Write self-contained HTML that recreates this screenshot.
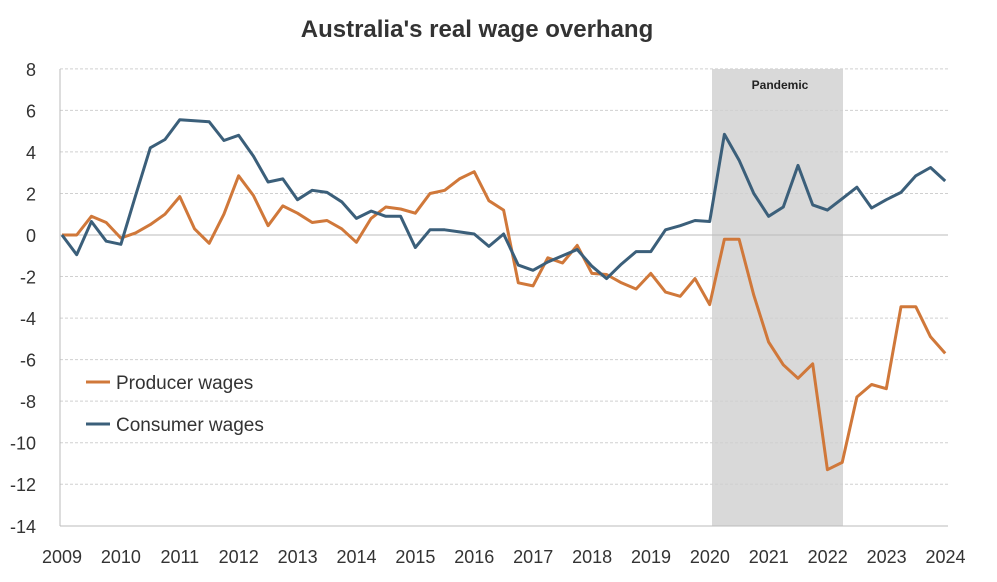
<!DOCTYPE html>
<html><head><meta charset="utf-8"><style>
body{margin:0;background:#fff;font-family:"Liberation Sans",sans-serif}
</style></head><body>
<svg id="s" width="997" height="577" viewBox="0 0 997 577" xmlns="http://www.w3.org/2000/svg" font-family="Liberation Sans, sans-serif">
<rect width="997" height="577" fill="#fff"/>
<text x="477" y="37" text-anchor="middle" font-size="24" font-weight="bold" fill="#333">Australia's real wage overhang</text>
<rect x="712" y="69" width="131" height="457" fill="#d9d9d9"/>
<text x="780" y="89" text-anchor="middle" font-size="12" font-weight="bold" fill="#222">Pandemic</text>
<g id="grid"></g>
<polyline id="p" fill="none" stroke="#d0783a" stroke-width="3" stroke-linejoin="round"/>
<polyline id="c" fill="none" stroke="#3b5f7a" stroke-width="3" stroke-linejoin="round"/>
<line x1="86" y1="382" x2="110" y2="382" stroke="#d0783a" stroke-width="3"/>
<text x="116" y="389" font-size="19" fill="#333">Producer wages</text>
<line x1="86" y1="424" x2="110" y2="424" stroke="#3b5f7a" stroke-width="3"/>
<text x="116" y="431" font-size="19" fill="#333">Consumer wages</text>
</svg>
<script>
var NS="http://www.w3.org/2000/svg",g=document.getElementById('grid');
function Y(v){return 235-v*20.77;}
function el(t,a,txt){var e=document.createElementNS(NS,t);for(var k in a)e.setAttribute(k,a[k]);if(txt!=null)e.textContent=txt;g.appendChild(e);}
for(var v=8;v>=-14;v-=2){
 if(v>-14) el('line',{x1:60,x2:948,y1:Y(v),y2:Y(v),stroke:v==0?'#bbb':'#d0d0d0','stroke-width':1,'stroke-dasharray':v==0?'':'3,2'});
 el('text',{x:36,y:Y(v)+7,'text-anchor':'end','font-size':18,fill:'#333'},v);
}
el('line',{x1:60,x2:60,y1:69,y2:526,stroke:'#bbb'});
el('line',{x1:60,x2:948,y1:526,y2:526,stroke:'#bbb'});
for(var i=0;i<=15;i++){el('text',{x:62+i*58.9,y:563,'text-anchor':'middle','font-size':18,fill:'#333'},2009+i);}
var C=[0,-0.95,0.65,-0.3,-0.45,1.9,4.2,4.6,5.55,5.5,5.45,4.55,4.8,3.8,2.55,2.7,1.7,2.15,2.05,1.6,0.8,1.15,0.9,0.9,-0.6,0.25,0.25,0.15,0.05,-0.55,0.05,-1.45,-1.7,-1.3,-1.0,-0.7,-1.5,-2.1,-1.4,-0.8,-0.8,0.25,0.45,0.7,0.65,4.85,3.6,2.0,0.9,1.35,3.35,1.45,1.2,1.75,2.3,1.3,1.7,2.05,2.85,3.25,2.6];
var P=[0,0,0.9,0.6,-0.15,0.1,0.5,1.0,1.85,0.3,-0.4,1.0,2.85,1.9,0.45,1.4,1.05,0.6,0.7,0.3,-0.35,0.8,1.35,1.25,1.05,2.0,2.15,2.7,3.05,1.65,1.2,-2.3,-2.45,-1.1,-1.35,-0.5,-1.85,-1.9,-2.3,-2.6,-1.85,-2.75,-2.95,-2.1,-3.35,-0.2,-0.2,-2.9,-5.15,-6.25,-6.9,-6.2,-11.3,-10.95,-7.8,-7.2,-7.4,-3.45,-3.45,-4.9,-5.7];
function pts(a){return a.map(function(v,i){return (62+i*14.72).toFixed(1)+','+Y(v).toFixed(1)}).join(' ');}
document.getElementById('c').setAttribute('points',pts(C));
document.getElementById('p').setAttribute('points',pts(P));
</script>
</body></html>
